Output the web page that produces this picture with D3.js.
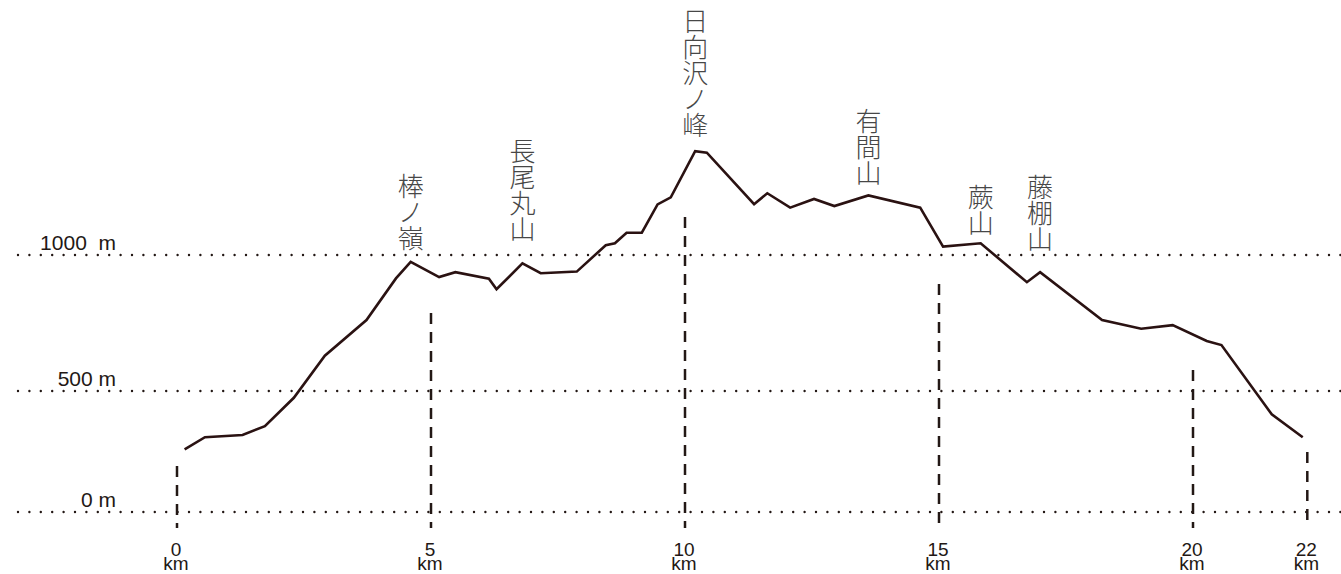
<!DOCTYPE html>
<html>
<head>
<meta charset="utf-8">
<script src="https://cdn.jsdelivr.net/npm/d3@7"></script>
<style>
  html, body { margin: 0; padding: 0; background: #fff; }
  svg { display: block; }
</style>
</head>
<body>
<svg width="1341" height="574"></svg>
<script>
// profile: distance (km) / elevation (m)
var distKm = [0.15, 0.55, 1.29, 1.73, 2.30, 2.91, 3.73, 4.31, 4.60, 5.16, 5.48, 6.14, 6.29, 6.80, 7.16, 7.87,
  8.44, 8.62, 8.85, 9.15, 9.46, 9.72, 10.20, 10.43, 11.36, 11.62, 12.07, 12.54, 12.94, 13.61, 14.63, 15.08,
  15.82, 16.73, 16.99, 18.21, 18.98, 19.60, 20.27, 20.56, 21.55, 22.16];
var elevM = [259, 309, 318, 355, 472, 630, 761, 914, 975, 919, 937, 913, 874, 969, 933, 939,
  1036, 1043, 1082, 1082, 1186, 1212, 1382, 1376, 1187, 1227, 1174, 1206, 1180, 1219, 1174, 1031,
  1043, 900, 937, 761, 729, 742, 684, 669, 404, 309];

// summits
var summitNames = ["棒ノ嶺", "長尾丸山", "日向沢ノ峰", "有間山", "蕨山", "藤棚山"];
var summitKm = [4.60, 6.80, 10.20, 13.61, 15.82, 16.99];
var summitElev = [975, 969, 1382, 1219, 1043, 937];
var labelGap = [12, 22, 14, 10, 8, 21];

// distance markers
var markerKm = [0, 5, 10, 15, 20, 22.25];
var markerLabels = ["0", "5", "10", "15", "20", "22"];
var markerTopM = [190, 787, 1140, 893, 577, 248];

// elevation guides
var guideM = [0, 500, 1000];
var guideLabels = ["0 m", "500 m", "1000  m"];

var svg = d3.select("svg");
var width = +svg.attr("width");

var x = d3.scaleLinear().domain([0, 20]).range([177, 1193]);
var y = d3.scaleLinear().domain([0, 500, 1000]).range([512, 391, 255]);

var ink = "#231815";
var latin = "'Liberation Sans', Arial, sans-serif";

// dotted guides
svg.append("g").selectAll("line")
  .data(guideM)
  .enter().append("line")
    .attr("x1", 18).attr("x2", width)
    .attr("y1", d => y(d)).attr("y2", d => y(d))
    .attr("stroke", ink)
    .attr("stroke-width", 2.4)
    .attr("stroke-linecap", "round")
    .attr("stroke-dasharray", "0 11.4");

svg.append("g").selectAll("text")
  .data(guideM)
  .enter().append("text")
    .attr("x", 116)
    .attr("y", d => y(d) - 5)
    .attr("text-anchor", "end")
    .attr("font-family", latin)
    .attr("font-size", 21)
    .attr("fill", ink)
    .style("white-space", "pre")
    .text((d, i) => guideLabels[i]);

// dashed distance markers
svg.append("g").selectAll("line")
  .data(markerKm)
  .enter().append("line")
    .attr("x1", d => x(d)).attr("x2", d => x(d))
    .attr("y1", (d, i) => y(markerTopM[i]))
    .attr("y2", 528)
    .attr("stroke", ink)
    .attr("stroke-width", 2.5)
    .attr("stroke-dasharray", "11 8");

// km numbers and unit as separate texts
var mk = svg.append("g");
mk.selectAll("text.num")
  .data(markerKm)
  .enter().append("text")
    .attr("class", "num")
    .attr("x", d => x(d) - 1)
    .attr("y", 556)
    .attr("text-anchor", "middle")
    .attr("font-family", latin)
    .attr("font-size", 19)
    .attr("fill", ink)
    .text((d, i) => markerLabels[i]);
mk.selectAll("text.unit")
  .data(markerKm)
  .enter().append("text")
    .attr("class", "unit")
    .attr("x", d => x(d) - 1)
    .attr("y", 570)
    .attr("text-anchor", "middle")
    .attr("font-family", latin)
    .attr("font-size", 19)
    .attr("fill", ink)
    .text("km");

// profile
var line = d3.line()
  .x((d, i) => x(distKm[i]))
  .y(d => y(d));

svg.append("path")
  .datum(elevM)
  .attr("d", line)
  .attr("fill", "none")
  .attr("stroke", "#2a1212")
  .attr("stroke-width", 2.6)
  .attr("stroke-linejoin", "miter");

// vertical summit labels, one character per row
var pitch = 26;
summitNames.forEach(function(name, i) {
  var chars = name.split("");
  var bottom = y(summitElev[i]) - labelGap[i];
  svg.append("g").selectAll("text")
    .data(chars)
    .enter().append("text")
      .attr("x", x(summitKm[i]))
      .attr("y", (c, j) => bottom - 2 - (chars.length - 1 - j) * pitch)
      .attr("text-anchor", "middle")
      .attr("font-family", "'Noto Sans CJK JP', sans-serif")
      .attr("font-weight", 300)
      .attr("font-size", 26)
      .attr("fill", "#474747")
      .text(c => c);
});
</script>
</body>
</html>
